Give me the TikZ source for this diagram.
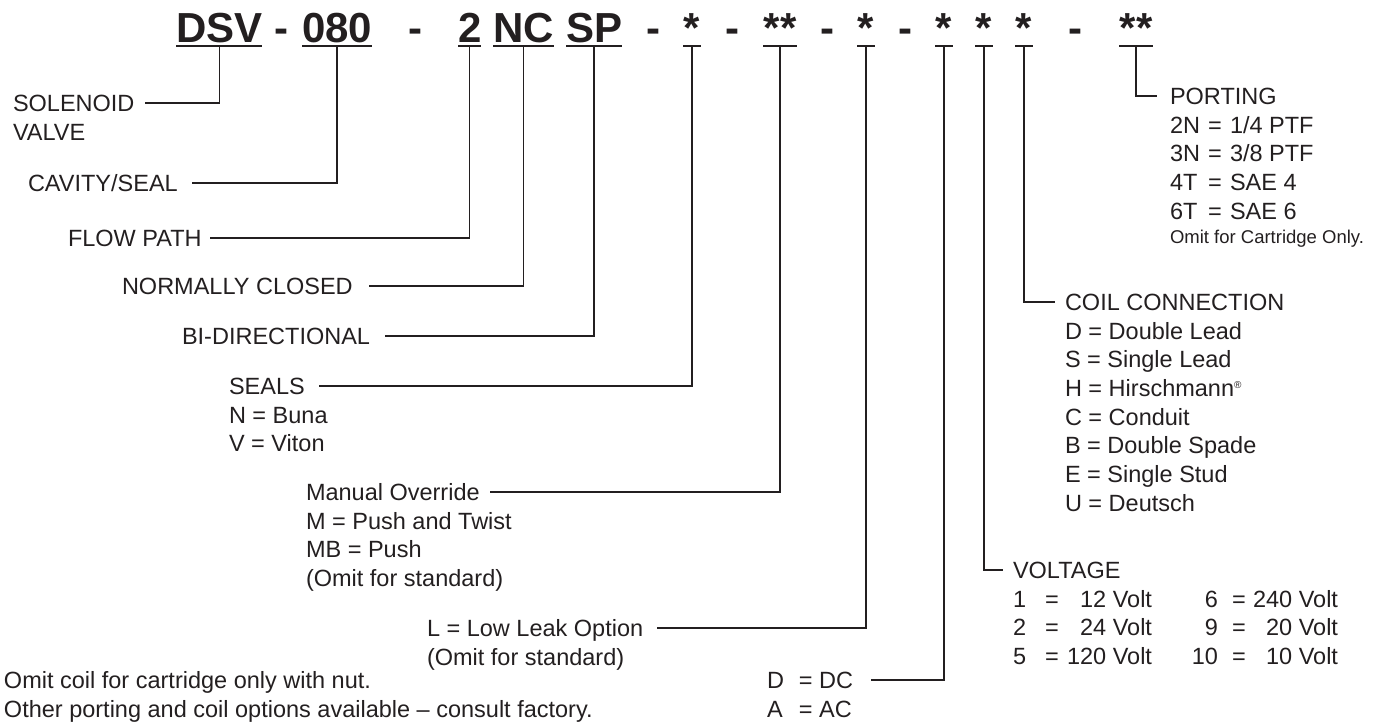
\documentclass[tikz,border=0pt]{standalone}
\usepackage{fontspec}
\setmainfont{Liberation Sans}
\definecolor{ink}{HTML}{231F20}
\begin{document}
\begin{tikzpicture}[x=1pt,y=-1pt,
  lbl/.style={inner sep=0pt,outer sep=0pt,anchor=base west,text=ink,
    font=\fontsize{23.5}{28.7}\selectfont,text height=16.8pt,text depth=0pt},
  lble/.style={lbl,anchor=base east},
  small/.style={lbl,font=\fontsize{18.5}{22}\selectfont,text height=13.2pt},
  hdr/.style={inner sep=0pt,outer sep=0pt,anchor=base west,text=ink,
    font=\fontsize{42}{50}\selectfont\bfseries},
  hmark/.style={hdr,anchor=base},
  conn/.style={draw=ink,line width=1.2pt},
  uline/.style={draw=ink,line width=2pt}]
\useasboundingbox (0,0) rectangle (1377,723);

% ---------- header ----------
\node[hdr] (hDSV) at (176,42) {DSV};
\node[hmark] (d1) at (281.5,42) {-};
\node[hdr] (h080) at (302,42) {080};
\node[hmark] (d2) at (415,42) {-};
\node[hdr] (h2) at (458,42) {2};
\node[hdr] (hNC) at (493,42) {NC};
\node[hdr] (hSP) at (566,42) {SP};
\node[hmark] (d3) at (653.5,42) {-};
\node[hmark] (s1) at (692,42) {*};
\node[hmark] (d4) at (732.5,42) {-};
\node[hmark] (s2) at (780,42) {**};
\node[hmark] (d5) at (827,42) {-};
\node[hmark] (s3) at (866,42) {*};
\node[hmark] (d6) at (905.5,42) {-};
\node[hmark] (s4) at (944,42) {*};
\node[hmark] (s5) at (984,42) {*};
\node[hmark] (s6) at (1024,42) {*};
\node[hmark] (d7) at (1075.5,42) {-};
\node[hmark] (s7) at (1136,42) {**};

\foreach \n in {hDSV,h080,h2,hNC,hSP}{
  \draw[uline] ([yshift=-3.5pt]\n.base west) -- ([yshift=-3.5pt]\n.base east);
  \coordinate (u\n) at ([yshift=-3.5pt]\n.base);
}
\foreach \n/\w in {s1/9,s2/17,s3/9,s4/9,s5/9,s6/9,s7/17}{
  \draw[uline] ([xshift=-\w pt,yshift=-3.5pt]\n.base) -- ([xshift=\w pt,yshift=-3.5pt]\n.base);
  \coordinate (u\n) at ([yshift=-3.5pt]\n.base);
}

% ---------- left labels ----------
\node[lbl] (lSol) at (13,111.4) {SOLENOID};
\node[lbl] (lValve) at (13,140.1) {VALVE};
\node[lbl] (lCav) at (28,191.4) {CAVITY/SEAL};
\node[lbl] (lFlow) at (68,246.4) {FLOW PATH};
\node[lbl] (lNC) at (122,294.4) {NORMALLY CLOSED};
\node[lbl] (lBi) at (182,344.4) {BI-DIRECTIONAL};
\node[lbl] (lSeals) at (229,394.4) {SEALS};
\node[lbl] (lSeal1) at (229,423.1) {N = Buna};
\node[lbl] (lSeal2) at (229,451.8) {V = Viton};
\node[lbl] (lMan) at (306,500.4) {Manual Override};
\node[lbl] (lMan1) at (306,529.1) {M = Push and Twist};
\node[lbl] (lMan2) at (306,557.8) {MB = Push};
\node[lbl] (lMan3) at (306,586.5) {(Omit for standard)};
\node[lbl] (lLow) at (427,636.4) {L = Low Leak Option};
\node[lbl] (lLow1) at (427,665.1) {(Omit for standard)};
\node[lbl] (lNote1) at (4,688.4) {Omit coil for cartridge only with nut.};
\node[lbl] (lNote2) at (4,717.8) {Other porting and coil options available – consult factory.};
\node[lbl] (lDC) at (767,688.4) {\makebox[32pt][l]{D}= DC};
\node[lbl] (lAC) at (767,717.8) {\makebox[32pt][l]{A}= AC};

% ---------- porting ----------
\node[lbl] (lPort) at (1170,104.4) {PORTING};
\foreach \i/\k/\v/\y in {1/2N/1\slash 4 PTF/133.1, 2/3N/3\slash 8 PTF/161.8, 3/4T/SAE 4/190.5, 4/6T/SAE 6/219.2}{
  \node[lbl] (pk\i) at (1170,\y) {\k};
  \node[lbl] (pe\i) at (1208,\y) {=};
  \node[lbl] (pv\i) at (1230,\y) {\v};
}
\node[small] (lPortNote) at (1170,243.6) {Omit for Cartridge Only.};

% ---------- coil connection ----------
\node[lbl] (lCoil) at (1065,310.4) {COIL CONNECTION};
\node[lbl] (c1) at (1065,339.1) {D = Double Lead};
\node[lbl] (c2) at (1065,367.8) {S = Single Lead};
\node[lbl] (c3) at (1065,396.5) {H = Hirschmann\raisebox{8pt}{\fontsize{10}{10}\selectfont ®}};
\node[lbl] (c4) at (1065,425.2) {C = Conduit};
\node[lbl] (c5) at (1065,453.9) {B = Double Spade};
\node[lbl] (c6) at (1065,482.6) {E = Single Stud};
\node[lbl] (c7) at (1065,511.3) {U = Deutsch};

% ---------- voltage ----------
\node[lbl] (lVolt) at (1013,578.4) {VOLTAGE};
\foreach \i/\ka/\va/\kb/\vb/\y in {1/1/12 Volt/6/240 Volt/607.1, 2/2/24 Volt/9/20 Volt/635.8, 3/5/120 Volt/10/10 Volt/664.5}{
  \node[lbl] (vka\i) at (1013,\y) {\ka};
  \node[lbl] (vea\i) at (1045,\y) {=};
  \node[lble] (vva\i) at (1152,\y) {\va};
  \node[lble] (vkb\i) at (1218,\y) {\kb};
  \node[lbl] (veb\i) at (1232,\y) {=};
  \node[lble] (vvb\i) at (1338,\y) {\vb};
}

% ---------- connectors ----------
\draw[conn] (uhDSV) |- ([xshift=11pt]lSol.east);
\draw[conn] (uh080) |- ([xshift=14pt]lCav.east);
\draw[conn] (uh2) |- ([xshift=8pt]lFlow.east);
\draw[conn] (uhNC) |- ([xshift=16pt]lNC.east);
\draw[conn] (uhSP) |- ([xshift=15pt]lBi.east);
\draw[conn] (us1) |- ([xshift=14pt]lSeals.east);
\draw[conn] (us2) |- ([xshift=10pt]lMan.east);
\draw[conn] (us3) |- ([xshift=14pt]lLow.east);
\draw[conn] (us4) |- ([xshift=18pt]lDC.east);
\draw[conn] (us5) |- ([xshift=-10pt]lVolt.west);
\draw[conn] (us6) |- ([xshift=-10pt]lCoil.west);
\draw[conn] (us7) |- ([xshift=-13pt]lPort.west);
\end{tikzpicture}
\end{document}
